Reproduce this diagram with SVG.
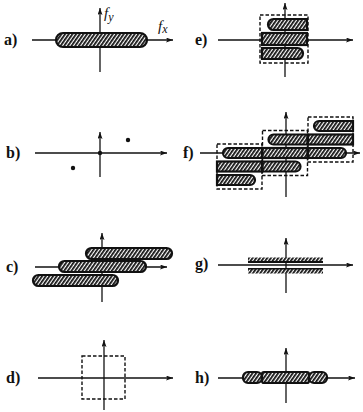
<svg xmlns="http://www.w3.org/2000/svg" width="363" height="412" viewBox="0 0 363 412">
<style>
.ax{stroke:#111;stroke-width:1.3;fill:none;marker-end:url(#arr)}
.cap{fill:url(#hatch);stroke:#111;stroke-width:2.2}
.hf{fill:url(#hatch)}
.box{fill:none;stroke:#111;stroke-width:1.4;stroke-dasharray:3.5,2}
.lbl{font-family:"Liberation Serif",serif;font-size:16px;font-weight:bold;fill:#111}
.it{font-family:"Liberation Serif",serif;font-style:italic;font-size:15px;fill:#111}
</style>
<defs>
<marker id="arr" markerUnits="userSpaceOnUse" markerWidth="8" markerHeight="6" refX="7" refY="2.5" orient="auto">
<path d="M0,0 L7,2.5 L0,5 L1.5,2.5 Z" fill="#111"/>
</marker>
<pattern id="hatch" width="3" height="3" patternUnits="userSpaceOnUse" patternTransform="rotate(35)">
<rect width="3" height="3" fill="#fff"/>
<line x1="0.9" y1="0" x2="0.9" y2="3" stroke="#111" stroke-width="1.8"/>
</pattern>
</defs>

<g id="axes">
<line class="ax" x1="32" y1="40" x2="173" y2="40"/>
<line class="ax" x1="100" y1="72" x2="100" y2="8"/>
<line class="ax" x1="35" y1="153" x2="167" y2="153"/>
<line class="ax" x1="100" y1="177" x2="100" y2="132"/>
<line class="ax" x1="35" y1="267" x2="167" y2="267"/>
<line class="ax" x1="102" y1="302" x2="102" y2="233"/>
<line class="ax" x1="38" y1="378" x2="173" y2="378"/>
<line class="ax" x1="104" y1="410" x2="104" y2="340"/>
<line class="ax" x1="218" y1="40" x2="353" y2="40"/>
<line class="ax" x1="285" y1="77" x2="285" y2="3"/>
<line class="ax" x1="200" y1="153" x2="360" y2="153"/>
<line class="ax" x1="286" y1="197" x2="286" y2="112"/>
<line class="ax" x1="218" y1="265" x2="353" y2="265"/>
<line class="ax" x1="286" y1="293" x2="286" y2="238"/>
<line class="ax" x1="218" y1="378" x2="355" y2="378"/>
<line class="ax" x1="286" y1="403" x2="286" y2="348"/>
</g>

<g id="panel-a">
<text class="lbl" x="4" y="45">a)</text>
<rect class="cap" x="56" y="33" width="91" height="14" rx="7"/>
<text class="it" x="104" y="18">f<tspan font-size="12" dy="3">y</tspan></text>
<text class="it" x="158" y="31">f<tspan font-size="12" dy="2">x</tspan></text>
</g>

<g id="panel-b">
<text class="lbl" x="6" y="158">b)</text>
<circle cx="100" cy="153" r="2.2" fill="#111"/>
<circle cx="128" cy="140" r="2.2" fill="#111"/>
<circle cx="73" cy="168" r="2.2" fill="#111"/>
</g>

<g id="panel-c">
<text class="lbl" x="6" y="272">c)</text>
<rect class="cap" x="86" y="248" width="86" height="11" rx="5.5"/>
<rect class="cap" x="59" y="261" width="87" height="11" rx="5.5"/>
<rect class="cap" x="33" y="275" width="85" height="11" rx="5.5"/>
</g>

<g id="panel-d">
<text class="lbl" x="6" y="383">d)</text>
<rect class="box" x="82" y="356" width="43" height="43"/>
</g>

<g id="panel-e">
<text class="lbl" x="195" y="45">e)</text>
<path class="cap" d="M273.5,19 H307 V30 H273.5 A5.5,5.5 0 0 1 273.5,19 Z"/>
<rect class="cap" x="262" y="33" width="45" height="12"/>
<path class="cap" d="M262,48 H297.5 A5.5,5.5 0 0 1 297.5,59 H262 Z"/>
<rect class="box" x="260" y="15" width="48" height="48"/>
</g>

<g id="panel-f">
<text class="lbl" x="183" y="158">f)</text>
<path class="cap" d="M228,148 H262 V158 H228 A5,5 0 0 1 228,148 Z"/>
<rect class="cap" x="217" y="161.5" width="45" height="10"/>
<path class="cap" d="M217,175 H250 A5,5 0 0 1 250,185 H217 Z"/>
<rect class="box" x="217" y="144" width="45" height="45"/>
<path class="cap" d="M273.5,134.5 H307.5 V144.5 H273.5 A5,5 0 0 1 273.5,134.5 Z"/>
<rect class="cap" x="262.5" y="148" width="45" height="10"/>
<path class="cap" d="M262.5,161.5 H295.5 A5,5 0 0 1 295.5,171.5 H262.5 Z"/>
<rect class="box" x="262.5" y="130.5" width="45" height="45"/>
<path class="cap" d="M319,121 H353 V131 H319 A5,5 0 0 1 319,121 Z"/>
<rect class="cap" x="308" y="134.5" width="45" height="10"/>
<path class="cap" d="M308,148 H341 A5,5 0 0 1 341,158 H308 Z"/>
<rect class="box" x="308" y="117" width="45" height="45"/>
</g>

<g id="panel-g">
<text class="lbl" x="195" y="269">g)</text>
<rect class="hf" x="248" y="257.5" width="75" height="4"/>
<line x1="248" y1="262" x2="323" y2="262" stroke="#111" stroke-width="2"/>
<line x1="248" y1="269" x2="323" y2="269" stroke="#111" stroke-width="2"/>
<rect class="hf" x="248" y="269.5" width="75" height="4"/>
</g>

<g id="panel-h">
<text class="lbl" x="195" y="383">h)</text>
<rect class="cap" x="243" y="372" width="19" height="11" rx="5"/>
<rect class="cap" x="262" y="372" width="47" height="11" rx="2"/>
<rect class="cap" x="309" y="372" width="18" height="11" rx="5"/>
</g>
</svg>
